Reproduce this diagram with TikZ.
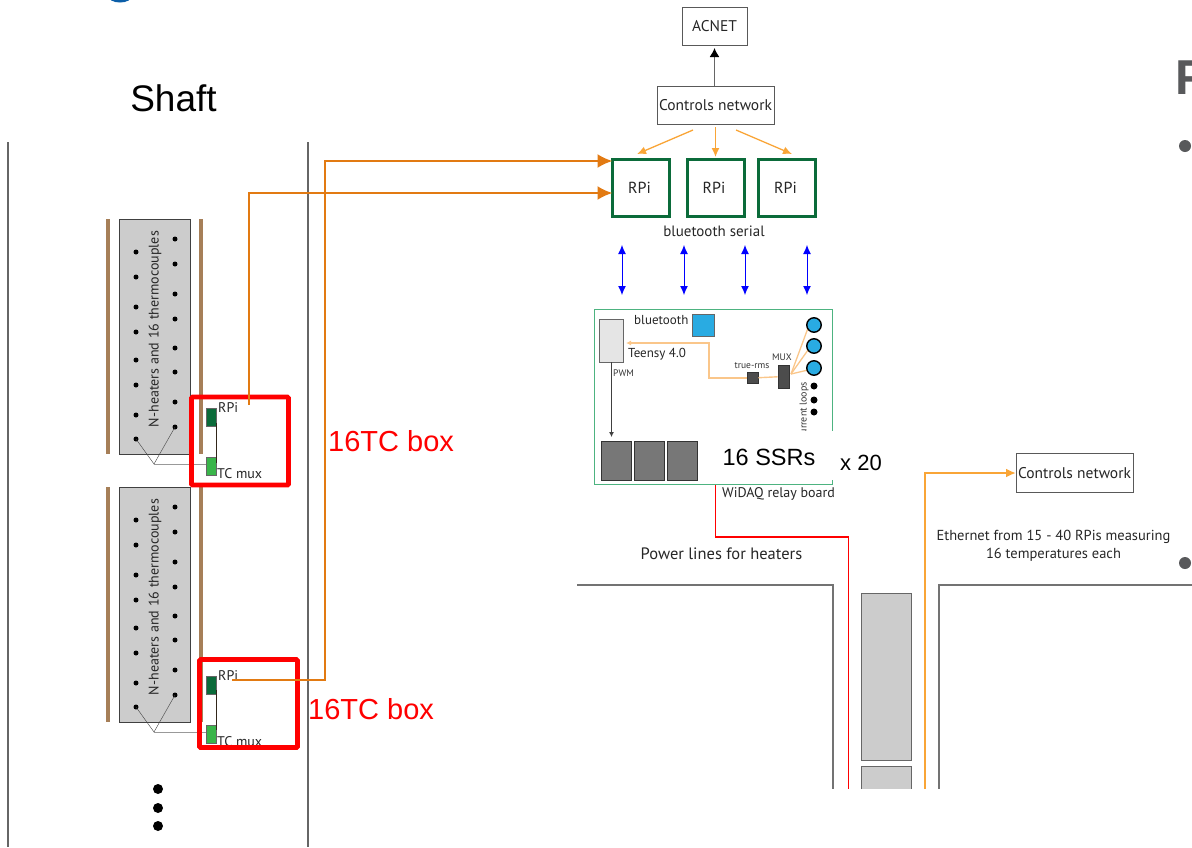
\documentclass[tikz,border=0pt]{standalone}
\usepackage{fontspec}
\setmainfont{PT Sans}
\newfontfamily\arialfont{Liberation Sans}
\usepackage{xcolor}
\usetikzlibrary{arrows.meta,positioning,calc}
\definecolor{Wire}{HTML}{E27A12}
\definecolor{PaleWire}{HTML}{F9A537}
\definecolor{FaintWire}{HTML}{FAC68A}
\definecolor{Relay}{HTML}{0B6B3A}
\definecolor{MuxGreen}{HTML}{39B54A}
\definecolor{Board}{HTML}{4DB380}
\definecolor{Rod}{HTML}{A67F58}
\definecolor{Cell}{HTML}{CCCCCC}
\definecolor{Wall}{HTML}{666666}
\definecolor{Sky}{HTML}{29ABE2}
\definecolor{Ssr}{HTML}{777777}
\definecolor{SlideGray}{HTML}{58595B}
\definecolor{Logo}{HTML}{0B5EA8}
\tikzset{
  labelbox/.style={draw=black!65,thick,fill=white,align=center,inner sep=0pt,outer sep=0pt,font=\fontsize{15.5}{17}\selectfont,text=black!85},
  rpibox/.style={draw=Relay,line width=3pt,fill=white,minimum width=57pt,minimum height=57pt,inner sep=0pt,outer sep=0pt,font=\fontsize{16}{18}\selectfont,text=black!85},
  redbox/.style={draw=red,line width=4.6pt,rounded corners=1pt,inner sep=0pt,outer sep=0pt,anchor=north west},
  redtext/.style={font=\arialfont\fontsize{29}{31}\selectfont,text=red,inner sep=0pt},
  stack/.style={draw=black!75,thick,fill=Cell,minimum width=71pt,minimum height=235pt,inner sep=0pt,outer sep=0pt},
  rpichip/.style={draw=black!60,fill=Relay,minimum width=10pt,minimum height=18pt,inner sep=0pt,outer sep=0pt},
  muxchip/.style={draw=black!60,fill=MuxGreen,minimum width=10pt,minimum height=18pt,inner sep=0pt,outer sep=0pt},
  small/.style={font=\fontsize{14}{16}\selectfont,inner sep=0pt,text=black!85},
  tiny/.style={font=\fontsize{9.5}{11}\selectfont,inner sep=0pt,text=black!80},
  thick wire/.style={-{Latex[length=15pt,width=14pt]},line width=2.2pt,draw=Wire},
  thin wire/.style={-{Latex[length=9pt,width=8pt]},line width=1.3pt,draw=PaleWire},
  serial/.style={{Latex[length=9pt,width=8pt]}-{Latex[length=9pt,width=8pt]},draw=blue,line width=1pt},
  wall/.style={draw=Wall,line width=1.3pt},
  ssr/.style={draw=black!80,thick,fill=Ssr,minimum width=30pt,minimum height=39pt,inner sep=0pt},
  dot/.style={circle,fill=black,inner sep=0pt,minimum size=5pt},
  bigdot/.style={circle,fill=black,inner sep=0pt,minimum size=10pt}
}
\begin{document}
\begin{tikzpicture}[x=1pt,y=-1pt]
  \useasboundingbox (0,0) rectangle (1192,847);
  % clipped bits of the slide
  \begin{scope}
    \clip (0,0) rectangle (1192,847);
    \draw[draw=Logo,line width=3pt] (109,-5) arc (180:360:11pt and 6pt);
    \node[font=\arialfont\bfseries\fontsize{49}{51}\selectfont,text=SlideGray,anchor=base west,inner sep=0pt] (cut) at (1175.5,94) {F};
  \end{scope}
  \node[circle,fill=SlideGray,minimum size=12pt,inner sep=0pt] (bulleta) at (1185,146) {};
  \node[circle,fill=SlideGray,minimum size=12pt,inner sep=0pt] (bulletb) at (1185,563) {};

  % shaft
  \node[font=\arialfont\fontsize{37}{40}\selectfont,inner sep=0pt] (shaft) at (173.5,98) {Shaft};
  \draw[wall] (8,142) -- (8,847);
  \draw[wall] (308,142) -- (308,847);
  \node[bigdot] (morea) at (158,789) {};
  \node[bigdot] (moreb) at (158,808) {};
  \node[bigdot] (morec) at (158,826) {};

  % two stacks of heaters
  \foreach \name/\ytop in {a/219,b/487}{
    \draw[draw=Rod,line width=3.4pt] (108,\ytop) -- ++(0,235);
    \draw[draw=Rod,line width=3.4pt] (201,\ytop) -- ++(0,235);
    \node[stack,anchor=north west] (stack\name) at (119,\ytop) {};
    \node[rotate=90,font=\fontsize{14}{16}\selectfont,inner sep=0pt,text=black!85] (text\name) at (155,\ytop+110) {N-heaters and 16 thermocouples};
    \foreach \dy in {33,58,88,113,141,166,196,220}
      \node[dot] at (136,\ytop+\dy) {};
    \foreach \dy in {20,45,75,100,129,153,183,208}
      \node[dot] at (175,\ytop+\dy) {};
  }

  % chips beside the stacks
  \node[rpichip] (rpia) at (211,417.5) {};
  \node[muxchip] (muxa) at (211,466.5) {};
  \node[rpichip] (rpib) at (211,685) {};
  \node[muxchip] (muxb) at (211,734) {};
  \draw[draw=black!70!Rod,line width=1.9pt] (216.5,423) -- (216.5,463);
  \draw[draw=black!70!Rod,line width=1.9pt] (216.5,690) -- (216.5,730);
  \node[small,anchor=west] (rpilabela) at (218,408) {RPi};
  \node[small,anchor=west] (muxlabela) at (217,474) {TC mux};
  \node[small,anchor=west] (rpilabelb) at (218,676) {RPi};
  \node[small,anchor=west] (muxlabelb) at (217,742) {TC mux};
  % thermocouple wires
  \coordinate (joina) at (154,464);
  \coordinate (joinb) at (154,732);
  \draw[draw=black!75] (136,439) -- (joina) -- (175,427);
  \draw[draw=black!40,line width=1pt] (joina) -- (muxa.west |- joina);
  \draw[draw=black!75] (136,707) -- (joinb) -- (175,695);
  \draw[draw=black!40,line width=1pt] (joinb) -- (muxb.west |- joinb);

  % 16TC boxes
  \node[redbox,draw,minimum width=97pt,minimum height=88pt] (boxa) at (191.5,397) {};
  \node[redbox,draw,minimum width=98pt,minimum height=88pt] (boxb) at (199.5,659.5) {};
  \node[redtext,anchor=west] (tca) at (328,441) {16TC box};
  \node[redtext,anchor=west] (tcb) at (308,709) {16TC box};

  % top of the chain
  \node[labelbox,minimum width=65pt,minimum height=38pt] (acnet) at (714.5,26) {ACNET};
  \node[labelbox,minimum width=117pt,minimum height=38pt] (net) at (715.5,105) {Controls network};
  \node[rpibox] (rpione) at (641,188) {\hspace*{-3pt}RPi};
  \node[rpibox] (rpitwo) at (715.5,188) {\hspace*{-3pt}RPi};
  \node[rpibox] (rpithree) at (787,188) {\hspace*{-3pt}RPi};
  \draw[draw=Wall,line width=1.4pt,-{Latex[length=9pt,width=10pt,black]}] (acnet.south |- net.north) -- (acnet.south |- 0,48);
  \draw[thin wire] (693,130) -- (637,154);
  \draw[thin wire] (715.5,127) -- (715.5,157);
  \draw[thin wire] (736,130) -- (792,154);
  \node[small,font=\fontsize{15}{17}\selectfont] (serial) at (714,231) {bluetooth serial};
  \foreach \x in {622,684,745,807}
    \draw[serial] (\x,245) -- (\x,295);

  % wires from the shaft
  \draw[thick wire] (232,680) -- (325,680) -- (325,161) -- (rpione.west |- 0,161);
  \draw[thick wire] (249,405) -- (249,193) -- (rpione.west |- 0,193);

  % relay board
  \draw[draw=Board,line width=1pt] (594,309) rectangle (832,484.5);
  \node[draw=Wall,thick,fill=black!10,minimum width=24pt,minimum height=43pt,inner sep=0pt] (teensy) at (611.5,340.5) {};
  \node[small,anchor=west,font=\fontsize{13}{15}\selectfont] (teensylabel) at (628,354) {Teensy 4.0};
  \node[small,anchor=west,font=\fontsize{13}{15}\selectfont] (btlabel) at (634,320) {bluetooth};
  \node[draw=Wall,fill=Sky,minimum width=22pt,minimum height=22pt,inner sep=0pt] (btchip) at (703,325) {};
  \node[tiny,anchor=west] (pwmlabel) at (613,373) {PWM};
  \draw[-{Latex[length=5pt,width=5pt]},draw=black!75,line width=.8pt] (teensy.south) -- (611.5,437);
  \node[ssr] (ssra) at (616,460.5) {};
  \node[ssr] (ssrb) at (649,460.5) {};
  \node[ssr] (ssrc) at (682.5,460.5) {};
  \node[draw=black!80,thick,fill=black!70,minimum size=11pt,inner sep=0pt] (rms) at (752.5,378) {};
  \node[draw=black!80,thick,fill=black!70,minimum width=11pt,minimum height=23pt,inner sep=0pt] (mux) at (783.5,376.5) {};
  \node[tiny] (rmslabel) at (752,366) {true-rms};
  \node[tiny] (muxlabel) at (782,357) {MUX};
  \draw[-{Latex[length=5pt,width=5pt]},draw=FaintWire,line width=1.4pt] (rms.west) -- (709,378) -- (709,343) -- (626,343);
  \draw[draw=FaintWire,line width=1.4pt] (rms) -- (mux);
  \draw[draw=FaintWire,line width=1.3pt] (791,374) -- (808,328);
  \draw[draw=FaintWire,line width=1.3pt] (791,374) -- (808,350);
  \draw[draw=FaintWire,line width=1.3pt] (791,374) -- (808,370);
  \foreach \cy in {325,346,368}
    \node[circle,draw=black,line width=1.4pt,fill=Sky,minimum size=14.5pt,inner sep=0pt] at (814,\cy) {};
  \foreach \cy in {386,400,412}
    \node[circle,fill=black,minimum size=7pt,inner sep=0pt] at (814,\cy) {};
  \node[tiny,rotate=90,anchor=east,font=\fontsize{10}{12}\selectfont] (loops) at (804,382) {current loops};
  \fill[white] (702,431) rectangle (832.6,480);
  \node[font=\arialfont\fontsize{23.5}{26}\selectfont,inner sep=0pt] (ssrs) at (769,457) {16 SSRs};
  \node[font=\arialfont\fontsize{22}{24}\selectfont,inner sep=0pt] (times) at (861,463) {x 20};
  \node[small,anchor=west] (wilabel) at (722,494) {WiDAQ relay board};

  % lower right
  \draw[draw=red,line width=1.8pt] (715.5,485) -- (715.5,537) -- (848.5,537) -- (848.5,789);
  \node[small,font=\fontsize{16.5}{18}\selectfont] (powerlabel) at (721.5,554) {Power lines for heaters};
  \draw[wall,draw=black!55] (577,585) -- (833,585) -- (833,789);
  \draw[wall,draw=black!55] (1192,585) -- (939,585) -- (939,789);
  \node[draw=black!60,thick,fill=Cell,minimum width=50pt,minimum height=167pt,inner sep=0pt,anchor=north west] (longcell) at (861,593) {};
  \path[draw=black!60,thick,fill=Cell] (861.5,789) -- (861.5,766) -- (911.5,766) -- (911.5,789);
  \node[labelbox,minimum width=117pt,minimum height=39pt] (netb) at (1074.5,473) {Controls network};
  \draw[-{Latex[length=10pt,width=9pt]},draw=PaleWire,line width=2pt] (925,789) -- (925,473) -- (netb.west);
  \node[small,align=center,font=\fontsize{14.5}{18.5}\selectfont] (ethlabel) at (1053.5,546) {Ethernet from 15 - 40 RPis measuring\\16 temperatures each};
\end{tikzpicture}
\end{document}
